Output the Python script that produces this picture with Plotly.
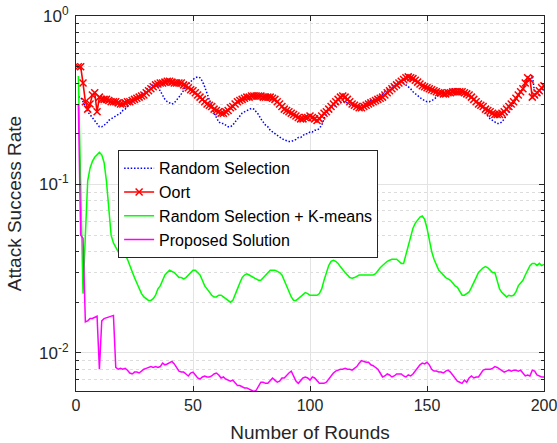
import plotly.graph_objects as go

# Rounds 1..200
rounds = list(range(1, 201))

random_selection = [
    0.33, 0.33, 0.31, 0.29, 0.27, 0.26, 0.25, 0.24, 0.23, 0.22,
    0.22, 0.225, 0.23, 0.24, 0.245, 0.25, 0.255, 0.26, 0.265, 0.275,
    0.28, 0.29, 0.30, 0.31, 0.32, 0.325, 0.335, 0.345, 0.355, 0.365,
    0.375, 0.385, 0.39, 0.39, 0.38, 0.36, 0.34, 0.32, 0.31, 0.305,
    0.30, 0.305, 0.315, 0.33, 0.345, 0.365, 0.38, 0.395, 0.41, 0.42,
    0.43, 0.435, 0.43, 0.41, 0.38, 0.35, 0.32, 0.29, 0.265, 0.25,
    0.235, 0.23, 0.23, 0.225, 0.22, 0.22, 0.225, 0.235, 0.245, 0.255,
    0.265, 0.27, 0.275, 0.28, 0.283, 0.28, 0.27, 0.26, 0.245, 0.235,
    0.225, 0.22, 0.21, 0.205, 0.20, 0.195, 0.19, 0.187, 0.184, 0.182,
    0.18, 0.18, 0.182, 0.185, 0.19, 0.19, 0.195, 0.20, 0.20, 0.205,
    0.205, 0.21, 0.21, 0.215, 0.225, 0.245, 0.265, 0.275, 0.285, 0.29,
    0.295, 0.30, 0.305, 0.31, 0.31, 0.305, 0.30, 0.295, 0.29, 0.29,
    0.29, 0.295, 0.30, 0.305, 0.31, 0.315, 0.32, 0.325, 0.33, 0.335,
    0.345, 0.355, 0.365, 0.375, 0.385, 0.395, 0.405, 0.41, 0.41, 0.40,
    0.39, 0.38, 0.37, 0.355, 0.345, 0.335, 0.325, 0.32, 0.315, 0.31,
    0.31, 0.315, 0.32, 0.33, 0.34, 0.345, 0.35, 0.355, 0.36, 0.365,
    0.37, 0.37, 0.37, 0.365, 0.36, 0.355, 0.35, 0.34, 0.33, 0.32,
    0.31, 0.30, 0.29, 0.28, 0.265, 0.255, 0.245, 0.24, 0.235, 0.23,
    0.23, 0.235, 0.245, 0.26, 0.275, 0.29, 0.305, 0.32, 0.335, 0.35,
    0.365, 0.39, 0.41, 0.43, 0.445, 0.35, 0.33, 0.34, 0.36, 0.38,
]

oort = [
    0.50, 0.50, 0.40, 0.31, 0.28, 0.30, 0.34, 0.35, 0.27, 0.33,
    0.32, 0.32, 0.32, 0.315, 0.31, 0.31, 0.31, 0.305, 0.30, 0.30,
    0.305, 0.31, 0.31, 0.315, 0.32, 0.325, 0.33, 0.335, 0.34, 0.35,
    0.36, 0.37, 0.38, 0.39, 0.395, 0.40, 0.40, 0.405, 0.41, 0.41,
    0.405, 0.40, 0.40, 0.40, 0.40, 0.39, 0.385, 0.375, 0.365, 0.36,
    0.35, 0.34, 0.33, 0.32, 0.31, 0.30, 0.295, 0.29, 0.28, 0.275,
    0.27, 0.265, 0.265, 0.27, 0.275, 0.285, 0.29, 0.30, 0.31, 0.315,
    0.32, 0.325, 0.33, 0.33, 0.335, 0.335, 0.335, 0.335, 0.335, 0.33,
    0.33, 0.33, 0.33, 0.325, 0.32, 0.31, 0.30, 0.29, 0.28, 0.275,
    0.27, 0.265, 0.26, 0.255, 0.25, 0.245, 0.245, 0.25, 0.25, 0.255,
    0.25, 0.245, 0.24, 0.245, 0.255, 0.265, 0.27, 0.28, 0.29, 0.30,
    0.31, 0.32, 0.33, 0.335, 0.33, 0.32, 0.31, 0.30, 0.295, 0.29,
    0.285, 0.285, 0.29, 0.295, 0.30, 0.305, 0.31, 0.315, 0.32, 0.325,
    0.33, 0.34, 0.35, 0.36, 0.37, 0.38, 0.39, 0.40, 0.41, 0.42,
    0.43, 0.435, 0.43, 0.425, 0.415, 0.405, 0.395, 0.385, 0.38, 0.375,
    0.37, 0.365, 0.36, 0.355, 0.35, 0.35, 0.345, 0.345, 0.35, 0.35,
    0.355, 0.355, 0.355, 0.355, 0.355, 0.35, 0.345, 0.34, 0.33, 0.32,
    0.31, 0.30, 0.295, 0.29, 0.28, 0.275, 0.27, 0.265, 0.26, 0.26,
    0.26, 0.265, 0.27, 0.28, 0.29, 0.30, 0.31, 0.325, 0.34, 0.355,
    0.37, 0.40, 0.43, 0.42, 0.33, 0.34, 0.35, 0.36, 0.375, 0.385,
]

random_kmeans = [
    0.44, 0.088, 0.0225, 0.05, 0.105, 0.125, 0.137, 0.145, 0.15, 0.155,
    0.15, 0.135, 0.105, 0.07, 0.05, 0.045, 0.042, 0.040, 0.038, 0.0385,
    0.038, 0.036, 0.033, 0.030, 0.028, 0.026, 0.024, 0.0225, 0.0215, 0.021,
    0.0205, 0.0205, 0.021, 0.022, 0.024, 0.025, 0.027, 0.029, 0.030, 0.031,
    0.0305, 0.030, 0.029, 0.028, 0.028, 0.0275, 0.028, 0.029, 0.030, 0.031,
    0.031, 0.030, 0.029, 0.027, 0.025, 0.024, 0.023, 0.022, 0.0215, 0.0215,
    0.022, 0.022, 0.0215, 0.021, 0.0205, 0.020, 0.0205, 0.022, 0.024, 0.026,
    0.028, 0.029, 0.0295, 0.029, 0.0285, 0.028, 0.0275, 0.027, 0.027, 0.028,
    0.029, 0.030, 0.031, 0.031, 0.031, 0.0305, 0.030, 0.029, 0.027, 0.025,
    0.023, 0.0215, 0.0205, 0.0205, 0.021, 0.0215, 0.022, 0.0228, 0.0225, 0.022,
    0.022, 0.022, 0.022, 0.0225, 0.024, 0.027, 0.030, 0.033, 0.035, 0.0355,
    0.035, 0.034, 0.0325, 0.031, 0.030, 0.029, 0.028, 0.0278, 0.028, 0.0285,
    0.029, 0.029, 0.029, 0.029, 0.029, 0.029, 0.029, 0.0295, 0.031, 0.032,
    0.033, 0.034, 0.035, 0.0355, 0.036, 0.036, 0.036, 0.035, 0.034, 0.034,
    0.038, 0.043, 0.049, 0.055, 0.059, 0.062, 0.064, 0.065, 0.062, 0.055,
    0.046, 0.040, 0.036, 0.033, 0.031, 0.030, 0.029, 0.028, 0.0275, 0.027,
    0.026, 0.025, 0.0245, 0.023, 0.022, 0.022, 0.0225, 0.023, 0.0245, 0.026,
    0.028, 0.030, 0.031, 0.032, 0.0325, 0.032, 0.031, 0.030, 0.030, 0.027,
    0.024, 0.0228, 0.022, 0.0215, 0.022, 0.0218, 0.022, 0.023, 0.025, 0.026,
    0.027, 0.029, 0.031, 0.033, 0.034, 0.034, 0.033, 0.034, 0.033, 0.0335,
]

proposed = [
    0.30, 0.050, 0.048, 0.0153, 0.0155, 0.016, 0.016, 0.0162, 0.0165, 0.008,
    0.0155, 0.016, 0.0162, 0.0163, 0.0165, 0.0167, 0.0082, 0.0080, 0.0081, 0.0080,
    0.0081, 0.0079, 0.0076, 0.0075, 0.0077, 0.0077, 0.0076, 0.0078, 0.0080, 0.0081,
    0.0082, 0.0083, 0.0082, 0.0083, 0.0082, 0.0083, 0.0087, 0.0085, 0.0086, 0.0088,
    0.0089, 0.0086, 0.0082, 0.0078, 0.0077, 0.0077, 0.0075, 0.0073, 0.0076, 0.0077,
    0.0074, 0.0071, 0.0070, 0.0072, 0.0073, 0.0072, 0.0072, 0.0073, 0.0075, 0.0076,
    0.0074, 0.0071, 0.0072, 0.0070, 0.0069, 0.0068, 0.0069, 0.0066, 0.0064, 0.0064,
    0.0063, 0.0062, 0.0062, 0.0061, 0.0060, 0.0059, 0.0060, 0.0064, 0.0067, 0.0067,
    0.0066, 0.0066, 0.0068, 0.0071, 0.0069, 0.0067, 0.0068, 0.0071, 0.0071, 0.0074,
    0.0076, 0.0078, 0.0073, 0.0068, 0.0066, 0.0068, 0.0071, 0.0072, 0.0071, 0.0069,
    0.0072, 0.0071, 0.0068, 0.0066, 0.0066, 0.0066, 0.0067, 0.0070, 0.0073, 0.0076,
    0.0078, 0.0079, 0.0080, 0.0080, 0.0081, 0.0080, 0.0080, 0.0079, 0.0081, 0.0083,
    0.0087, 0.0090, 0.0089, 0.0088, 0.0088, 0.0085, 0.0084, 0.0082, 0.0080, 0.0076,
    0.0072, 0.0073, 0.0075, 0.0074, 0.0072, 0.0073, 0.0075, 0.0075, 0.0075, 0.0073,
    0.0072, 0.0074, 0.0073, 0.0075, 0.0078, 0.0082, 0.0085, 0.0087, 0.0086, 0.0088,
    0.0085, 0.0080, 0.0078, 0.0078, 0.0077, 0.0077, 0.0076, 0.0078, 0.0079, 0.0077,
    0.0074, 0.0071, 0.0068, 0.0067, 0.0066, 0.0069, 0.0067, 0.0071, 0.0073, 0.0071,
    0.0072, 0.0072, 0.0075, 0.0079, 0.0080, 0.0080, 0.0080, 0.0081, 0.0083, 0.0082,
    0.0080, 0.0079, 0.0077, 0.0078, 0.0079, 0.0078, 0.0079, 0.0079, 0.0078, 0.0079,
    0.0076, 0.0073, 0.0074, 0.0073, 0.0079, 0.0078, 0.0074, 0.0073, 0.0072, 0.0072,
]

x_ticks = [0, 50, 100, 150, 200]
y_major = [1e-2, 1e-1, 1]
y_major_text = ["10<sup>-2</sup>", "10<sup>-1</sup>", "10<sup>0</sup>"]
y_minor = [m * d for d in (1e-3, 1e-2, 1e-1) for m in range(2, 10)]

FONT = "Liberation Sans, Arial, Helvetica, sans-serif"
INK = "#262626"

fig = go.Figure()
fig.add_trace(go.Scatter(
    x=rounds, y=random_selection, mode="lines", name="Random Selection",
    line=dict(color="#0000FF", width=1.5, dash="1.5px,1.8px"),
))
fig.add_trace(go.Scatter(
    x=rounds, y=oort, mode="lines+markers", name="Oort",
    line=dict(color="#FF0000", width=1.6),
    marker=dict(symbol="x-thin", size=7, color="#FF0000",
                line=dict(color="#FF0000", width=1.5)),
))
fig.add_trace(go.Scatter(
    x=rounds, y=random_kmeans, mode="lines", name="Random Selection + K-means",
    line=dict(color="#00FF00", width=1.5),
))
fig.add_trace(go.Scatter(
    x=rounds, y=proposed, mode="lines", name="Proposed Solution",
    line=dict(color="#FF00FF", width=1.5),
))

fig.update_layout(
    width=557, height=443,
    margin=dict(l=76, r=13, t=16, b=52, autoexpand=False),
    paper_bgcolor="white", plot_bgcolor="white",
    font=dict(family=FONT, color=INK, size=16),
    showlegend=True,
    legend=dict(
        x=0.09, y=0.642, xanchor="left", yanchor="top",
        bgcolor="white", bordercolor=INK, borderwidth=1,
        font=dict(family=FONT, size=16, color="black"),
        itemwidth=30, tracegroupgap=0,
    ),
)

fig.update_xaxes(
    range=[0, 200], tickvals=x_ticks, ticks="inside", ticklen=5,
    tickcolor=INK, showline=True, linecolor=INK, linewidth=1, mirror="ticks",
    showgrid=True, gridcolor="#e3e3e3", gridwidth=1, zeroline=False,
    tickfont=dict(size=16, color=INK), ticklabeloverflow="allow",
    automargin=False,
    title=dict(text="Number of Rounds", font=dict(size=19, color=INK), standoff=12),
)

fig.update_yaxes(
    type="log", range=[-2.226, 0],
    tickvals=y_major, ticktext=y_major_text,
    ticks="inside", ticklen=5, tickcolor=INK,
    showline=True, linecolor=INK, linewidth=1, mirror="ticks",
    showgrid=True, gridcolor="#e3e3e3", gridwidth=1, zeroline=False,
    tickfont=dict(size=17, color=INK), ticklabelstandoff=3,
    automargin=False,
    minor=dict(tickvals=y_minor, ticks="inside", ticklen=3, tickcolor=INK,
               showgrid=True, gridcolor="#dcdcdc", griddash="dot", gridwidth=1),
    title=dict(text="Attack Success Rate", font=dict(size=19, color=INK), standoff=12),
)

fig.write_html("out.html")
